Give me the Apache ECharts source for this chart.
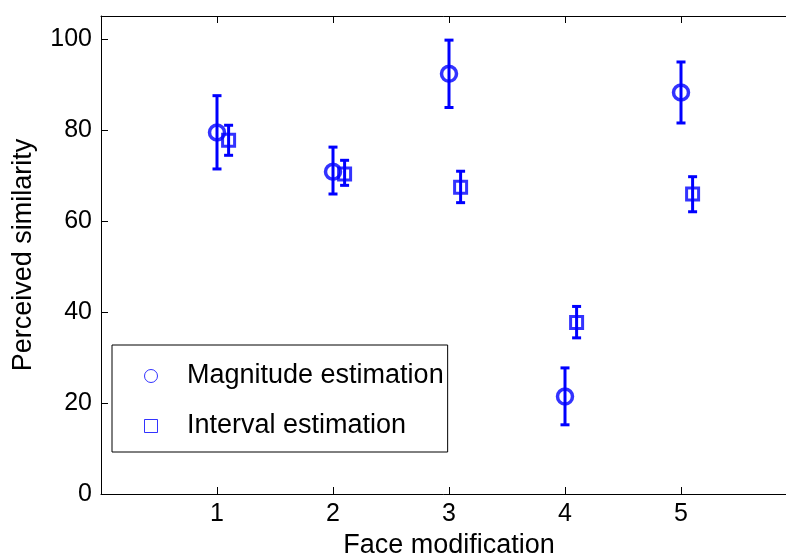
<!DOCTYPE html>
<html>
<head>
<meta charset="utf-8">
<script src="https://cdn.jsdelivr.net/npm/echarts@6/dist/echarts.min.js"></script>
<style>
  html, body { margin: 0; padding: 0; background: #fff; overflow: hidden; }
  #chart { width: 786px; height: 556px; }
</style>
</head>
<body>
<div id="chart"></div>
<script>
// face modification levels
const faceMods = [1, 2, 3, 4, 5];
const offset = 0.1; // interval series drawn a bit to the right

// magnitude estimation (circles)
const magMean = [79.4, 70.8, 92.3, 21.4, 88.2];
const magLow = [71.4, 65.9, 84.9, 15.2, 81.5];
const magHigh = [87.5, 76.2, 99.7, 27.7, 94.9];

// interval estimation (squares)
const intMean = [77.7, 70.3, 67.4, 37.7, 65.9];
const intLow = [74.4, 67.8, 64.0, 34.3, 62.0];
const intHigh = [81.0, 73.3, 70.9, 41.2, 69.7];

const xTicks = ['1', '2', '3', '4', '5'];
const yTicks = ['0', '20', '40', '60', '80', '100'];

const blue = '#0000ff';
const fontFamily = 'Liberation Sans, Arial, sans-serif';

function errorBarItem(capHalf) {
  return function (params, api) {
    const x = api.value(0);
    const lo = api.coord([x, api.value(1)]);
    const hi = api.coord([x, api.value(2)]);
    const style = { stroke: blue, lineWidth: 3 };
    return {
      type: 'group',
      children: [
        { type: 'line', shape: { x1: lo[0], y1: lo[1], x2: hi[0], y2: hi[1] }, style: style },
        { type: 'line', shape: { x1: lo[0] - capHalf, y1: lo[1], x2: lo[0] + capHalf, y2: lo[1] }, style: style },
        { type: 'line', shape: { x1: hi[0] - capHalf, y1: hi[1], x2: hi[0] + capHalf, y2: hi[1] }, style: style }
      ]
    };
  };
}

const magPoints = faceMods.map((x, i) => [x, magMean[i]]);
const intPoints = faceMods.map((x, i) => [x + offset, intMean[i]]);
const magBars = faceMods.map((x, i) => [x, magLow[i], magHigh[i]]);
const intBars = faceMods.map((x, i) => [x + offset, intLow[i], intHigh[i]]);

let myChart = echarts.init(document.getElementById('chart'));
let option = {
  animation: false,
  grid: {
    left: 101,
    top: 16,
    width: 696,
    bottom: 62,
    outerBoundsMode: 'none'
  },
  legend: {
    left: 112,
    top: 345,
    orient: 'vertical',
    padding: [16, 4, 11, 32],
    itemGap: 20,
    itemWidth: 14,
    itemHeight: 13,
    borderColor: '#000',
    borderWidth: 1,
    backgroundColor: '#fff',
    selectedMode: false,
    data: [
      { name: 'Magnitude estimation', icon: 'circle' },
      { name: 'Interval estimation', icon: 'path://M0,0H10V10H0Z' }
    ],
    itemStyle: { color: 'transparent', borderColor: blue, borderWidth: 1 },
    textStyle: {
      fontFamily: fontFamily,
      fontSize: 27,
      lineHeight: 30,
      color: '#000',
      padding: [0, 0, 0, 24]
    }
  },
  xAxis: [
    {
      type: 'value',
      min: 0,
      max: 6,
      interval: 1,
      name: 'Face modification',
      nameLocation: 'middle',
      nameGap: 38,
      nameTextStyle: { fontFamily: fontFamily, fontSize: 27, color: '#000' },
      axisLine: { show: true, onZero: false, lineStyle: { color: '#000', width: 1 } },
      axisTick: { show: true, inside: true, length: 7, lineStyle: { color: '#000' } },
      axisLabel: {
        fontFamily: fontFamily,
        fontSize: 25,
        color: '#000',
        margin: 8,
        formatter: function (v) {
          return xTicks.indexOf(String(v)) >= 0 ? String(v) : '';
        }
      },
      splitLine: { show: false }
    },
    {
      type: 'value',
      position: 'top',
      min: 0,
      max: 6,
      interval: 1,
      axisLine: { show: true, onZero: false, lineStyle: { color: '#000', width: 1 } },
      axisTick: { show: true, inside: true, length: 7, lineStyle: { color: '#000' } },
      axisLabel: { show: false },
      splitLine: { show: false }
    }
  ],
  yAxis: [
    {
      type: 'value',
      min: 0,
      max: 105,
      interval: 20,
      name: 'Perceived similarity',
      nameLocation: 'middle',
      nameGap: 64,
      nameTextStyle: { fontFamily: fontFamily, fontSize: 27, color: '#000' },
      axisLine: { show: true, onZero: false, lineStyle: { color: '#000', width: 1 } },
      axisTick: { show: true, inside: true, length: 7, lineStyle: { color: '#000' } },
      axisLabel: {
        fontFamily: fontFamily,
        fontSize: 25,
        color: '#000',
        margin: 9,
        showMaxLabel: false,
        formatter: function (v) {
          return yTicks.indexOf(String(v)) >= 0 ? String(v) : '';
        }
      },
      splitLine: { show: false }
    }
  ],
  series: [
    {
      name: 'Magnitude estimation',
      type: 'scatter',
      symbol: 'circle',
      symbolSize: 15,
      itemStyle: { color: 'transparent', borderColor: blue, borderWidth: 3.5 },
      data: magPoints,
      z: 3
    },
    {
      name: 'Interval estimation',
      type: 'scatter',
      symbol: 'rect',
      symbolSize: 12,
      itemStyle: { color: 'transparent', borderColor: blue, borderWidth: 3 },
      data: intPoints,
      z: 3
    },
    {
      name: 'magErr',
      type: 'custom',
      renderItem: errorBarItem(4.5),
      encode: { x: 0, y: [1, 2] },
      data: magBars,
      z: 4
    },
    {
      name: 'intErr',
      type: 'custom',
      renderItem: errorBarItem(4.5),
      encode: { x: 0, y: [1, 2] },
      data: intBars,
      z: 4
    }
  ]
};
myChart.setOption(option);
</script>
</body>
</html>
